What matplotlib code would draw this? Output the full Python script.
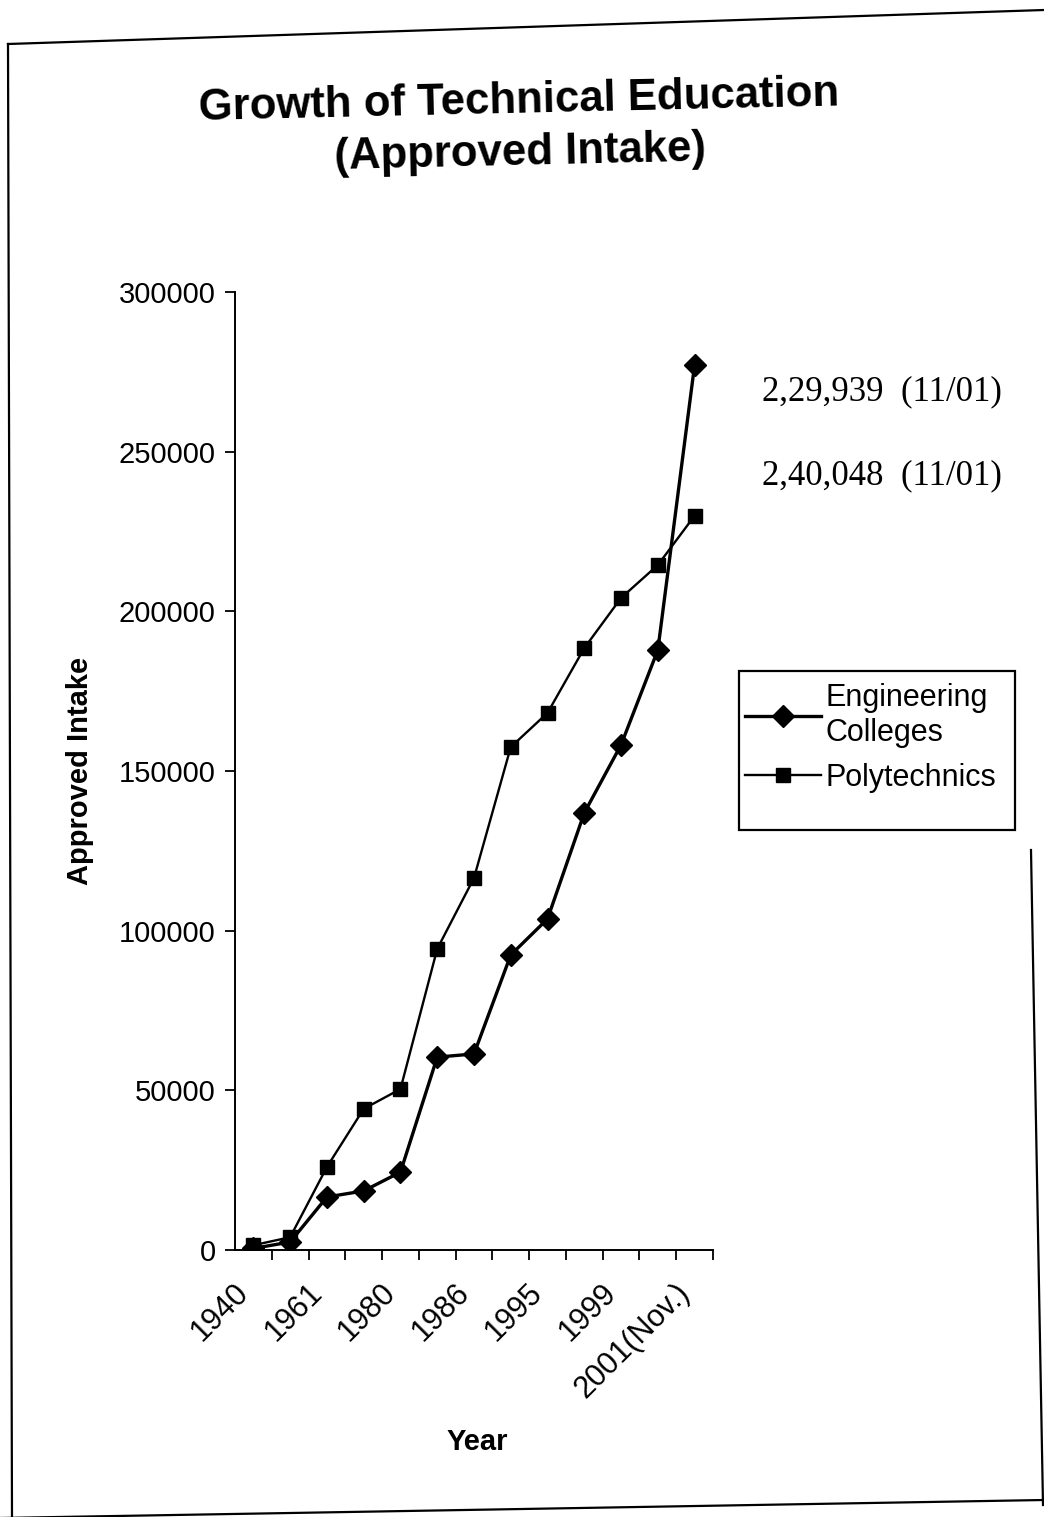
#!/usr/bin/env python3
# -*- coding: utf-8 -*-
"""
Growth of technical education: approved intake per year,
engineering colleges vs polytechnics.
"""
import numpy as np
import matplotlib
matplotlib.use("Agg")
import matplotlib.pyplot as plt
import matplotlib.transforms as mtransforms
from matplotlib.lines import Line2D
from matplotlib.patches import Rectangle

plt.rcParams['font.family'] = ['Liberation Sans', 'DejaVu Sans']

# category labels (only every other one is printed on the axis)
years = ["1940", "", "1961", "", "1980", "", "1986", "", "1995", "", "1999", "", "2001(Nov.)"]

engineering = [500, 2500, 16600, 18500, 24400, 60400, 61400, 92400, 103700,
               136900, 158200, 187900, 277200]
polytechnics = [1500, 4000, 26000, 44200, 50400, 94300, 116500, 157500, 168200,
                188500, 204200, 214500, 229939]

notes = ["2,29,939  (11/01)", "2,40,048  (11/01)"]

W, H = 1044, 1517
fig = plt.figure(figsize=(W / 100, H / 100), dpi=100)

def px(x, y):
    # pixel position -> figure fraction
    return x / W, 1 - y / H

ax = fig.add_axes([235 / W, 1 - 1250 / H, (713 - 235) / W, (1250 - 292) / H])

x = np.arange(len(years))
ax.plot(x, engineering, color='black', lw=2.4, marker='D', ms=11,
        label='Engineering\nColleges', zorder=3)
ax.plot(x, polytechnics, color='black', lw=1.7, marker='s', ms=10,
        label='Polytechnics', zorder=3)

ax.set_xlim(-0.5, len(years) - 0.5)
ax.set_ylim(0, 300000)
ax.set_yticks(np.arange(0, 300001, 50000))
ax.tick_params(axis='y', labelsize=21, length=7, width=1.3, pad=7)

# labels at category centres, tick marks between categories
ax.set_xticks(x)
ax.set_xticklabels(years, rotation=45, ha='right', rotation_mode='anchor')
ax.set_xticks(np.arange(0.5, len(years), 1), minor=True)
ax.tick_params(axis='x', which='major', length=0, labelsize=22, pad=20)
ax.tick_params(axis='x', which='minor', length=7, width=1.3)
shift = mtransforms.ScaledTranslation(-20 / 100, 0, fig.dpi_scale_trans)
for lab in ax.get_xticklabels():
    lab.set_transform(lab.get_transform() + shift)

for s in ['top', 'right']:
    ax.spines[s].set_visible(False)
for s in ['left', 'bottom']:
    ax.spines[s].set_linewidth(1.4)

ax.set_ylabel("Approved Intake", fontsize=21, fontweight='bold')
ax.yaxis.set_label_coords(-0.295, 0.5)
ax.set_xlabel("Year", fontsize=21, fontweight='bold')
ax.xaxis.set_label_coords(0.506, -0.186)

# legend box drawn separately so it can be taller than its entries
fig.add_artist(Rectangle(px(739, 830), 276 / W, 159 / H, transform=fig.transFigure,
                         fill=False, edgecolor='black', lw=1.6))
leg = ax.legend(loc='upper left', bbox_to_anchor=px(745, 683),
                bbox_transform=fig.transFigure, fontsize=22, frameon=False,
                handlelength=2.5, handletextpad=0.15,
                borderpad=0.0, labelspacing=0.5, borderaxespad=0)

# title, slightly tilted like the printed page
fig.text(*px(520, 127), "Growth of Technical Education\n(Approved Intake)",
         ha='center', va='center', fontsize=31.5, fontweight='bold',
         rotation=1.3, linespacing=1.35)

for note, yy in zip(notes, [392, 476]):
    fig.text(*px(762, yy), note, ha='left', va='center', fontsize=25,
             family=['Liberation Serif', 'DejaVu Serif'])

# outer chart border
frame = [((8, 44), (1044, 10)), ((8, 44), (12, 1517)),
         ((1031, 850), (1043, 1505)), ((0, 1518), (1044, 1500))]
for (x0, y0), (x1, y1) in frame:
    fig.add_artist(Line2D([x0 / W, x1 / W], [1 - y0 / H, 1 - y1 / H],
                          transform=fig.transFigure, color='black', lw=1.6))

fig.savefig("out.png", dpi=100, facecolor='white')
